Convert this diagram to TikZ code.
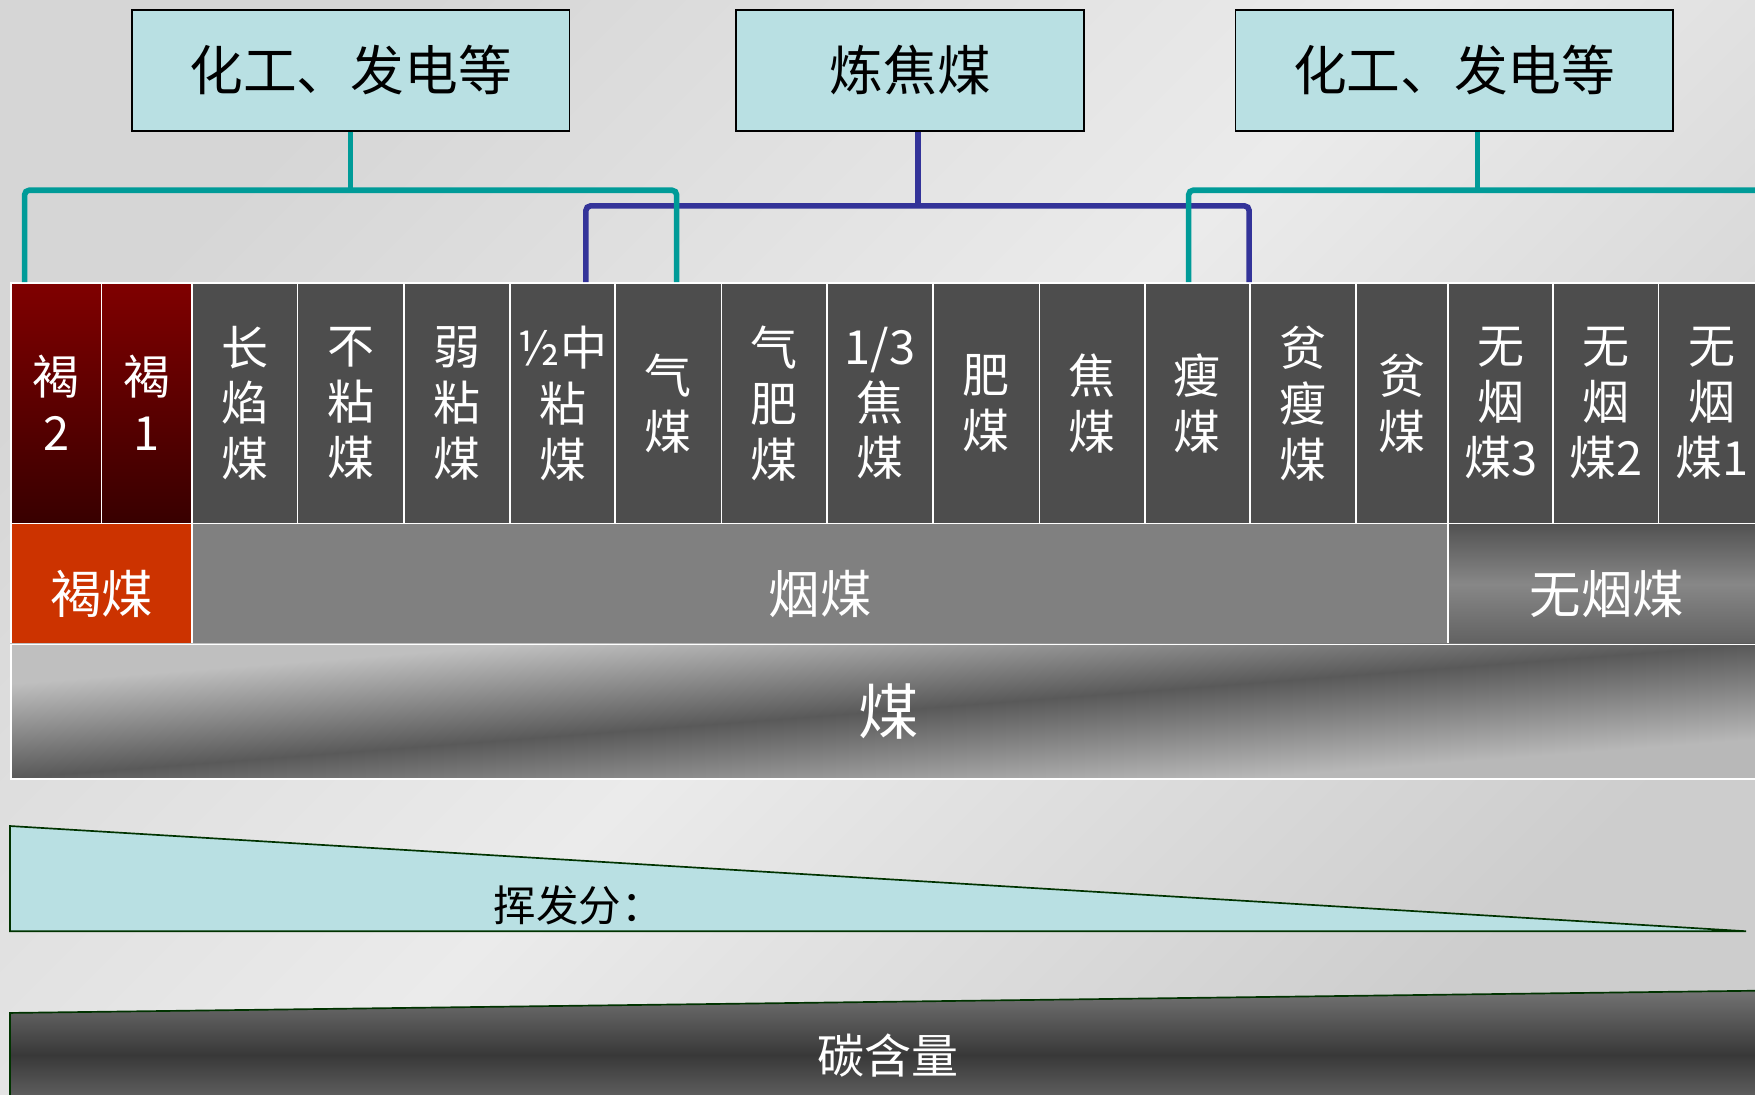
\documentclass[tikz,border=0pt]{standalone}
\usepackage{fontspec}
\setmainfont{Noto Sans CJK SC}
\definecolor{boxfill}{HTML}{B9E0E3}
\definecolor{tealc}{HTML}{009B98}
\definecolor{bluec}{HTML}{333399}
\definecolor{cellgray}{HTML}{4D4D4D}
\definecolor{brownc}{HTML}{CC3300}
\definecolor{midgray}{HTML}{808080}
\definecolor{edgegreen}{HTML}{003300}
\definecolor{bgdark}{HTML}{D6D6D6}
\definecolor{bglight}{HTML}{EBEBEB}
\begin{document}
\begin{tikzpicture}[x=1pt,y=-1pt,
  topbox/.style={draw=black, line width=1.5pt, fill=boxfill, minimum height=108pt,
    inner sep=0pt, anchor=north west, font=\fontsize{48}{52}\selectfont},
  cellbox/.style={draw=white, line width=1.5pt, fill=cellgray, text=white, inner sep=0pt,
    anchor=north west, minimum height=215pt, align=center,
    font=\fontsize{42}{50}\selectfont},
  browncell/.style={cellbox, top color=red!50!black, bottom color=red!22!black},
  rowbox/.style={draw=white, line width=1.5pt, text=white, inner sep=0pt, anchor=north west,
    minimum height=108pt, text height=58pt, text depth=5pt,
    font=\fontsize{46}{50}\selectfont},
  tealline/.style={draw=tealc, line width=5pt, rounded corners=4pt},
  blueline/.style={draw=bluec, line width=5pt, rounded corners=4pt},
  wedge/.style={draw=edgegreen, line width=1.5pt},
]
\clip (0,0) rectangle (1568,978);
\shade[top color=bgdark, bottom color=bgdark!96!black, middle color=bglight, shading angle=45]
  (0,0) rectangle (1568,978);

% top boxes
\node[topbox, minimum width=391pt] (b1) at (117,8) {化工、发电等};
\node[topbox, minimum width=311pt] (b2) at (657,8) {炼焦煤};
\node[topbox, minimum width=391pt] (b3) at (1103,8) {化工、发电等};

% cells
\node[browncell, minimum width=81pt] (c1) at (9,252) {褐\\2};
\node[browncell, minimum width=81pt] (c2) at (90,252) {褐\\1};
\node[cellbox, minimum width=94pt] (c3) at (171,252) {长\\焰\\煤};
\node[cellbox, minimum width=95pt] (c4) at (265,252) {不\\粘\\煤};
\node[cellbox, minimum width=95pt] (c5) at (360,252) {弱\\粘\\煤};
\node[cellbox, minimum width=94pt] (c6) at (455,252) {½中\\粘\\煤};
\node[cellbox, minimum width=95pt] (c7) at (549,252) {气\\煤};
\node[cellbox, minimum width=94pt] (c8) at (644,252) {气\\肥\\煤};
\node[cellbox, minimum width=95pt] (c9) at (738,252) {1/3\\焦\\煤};
\node[cellbox, minimum width=95pt] (c10) at (833,252) {肥\\煤};
\node[cellbox, minimum width=94pt] (c11) at (928,252) {焦\\煤};
\node[cellbox, minimum width=94pt] (c12) at (1022,252) {瘦\\煤};
\node[cellbox, minimum width=95pt] (c13) at (1116,252) {贫\\瘦\\煤};
\node[cellbox, minimum width=82pt] (c14) at (1211,252) {贫\\煤};
\node[cellbox, minimum width=94pt] (c15) at (1293,252) {无\\烟\\煤3};
\node[cellbox, minimum width=94pt] (c16) at (1387,252) {无\\烟\\煤2};
\node[cellbox, minimum width=96pt] (c17) at (1481,252) {无\\烟\\煤1};

% second row
\node[rowbox, fill=brownc, minimum width=162pt] (r1) at (9,467) {褐煤};
\node[rowbox, fill=midgray, minimum width=1122pt] (r2) at (171,467) {烟煤};
\node[rowbox, top color=black!68, bottom color=black!62, middle color=black!47,
  minimum width=284pt] (r3) at (1293,467) {无烟煤};

% third row: diagonal gradient squeezed into the row
\begin{scope}[transform canvas={cm={15.68,0,0,1.2,(9pt,-695pt)}}]
  \shade[top color=black!25, bottom color=black!28, middle color=black!65, shading angle=45]
    (0pt,0pt) rectangle (100pt,100pt);
\end{scope}
\node[draw=white, line width=1.5pt, anchor=north west, inner sep=0pt,
  minimum width=1568pt, minimum height=120pt,
  text=white, font=\fontsize{54}{60}\selectfont] (m) at (9,575) {煤};

% connectors
\coordinate (t2) at (820,184);
\draw[blueline] (t2 |- b2.south) -- (t2);
\draw[blueline] ([xshift=-27pt]c6.north east) |- (t2) -| (c13.north west);
\coordinate (t1) at (313,170);
\draw[tealline] (t1 |- b1.south) -- (t1);
\draw[tealline] ([xshift=13pt]c1.north west) |- (t1) -| ([xshift=-41pt]c7.north east);
\coordinate (t3) at (1320,170);
\coordinate (tend) at (1580,170);
\draw[tealline] (t3 |- b3.south) -- (t3);
\draw[tealline] ([xshift=40pt]c12.north west) |- (t3) -- (tend);

% volatile wedge
\draw[wedge, fill=boxfill] (9,738) -- (1560,832) -- (9,832) -- cycle;
\node[font=\fontsize{38}{40}\selectfont, text=black] (vol) at (517,809) {挥发分：};

% carbon wedge
\shade[top color=black!55, bottom color=black!55, middle color=black!78]
  (9,905) -- (1580,885) -- (1580,1000) -- (9,1000) -- cycle;
\draw[wedge] (9,1000) -- (9,905) -- (1580,885);
\node[font=\fontsize{42}{44}\selectfont, text=white] (carb) at (793,943) {碳含量};
\end{tikzpicture}
\end{document}
